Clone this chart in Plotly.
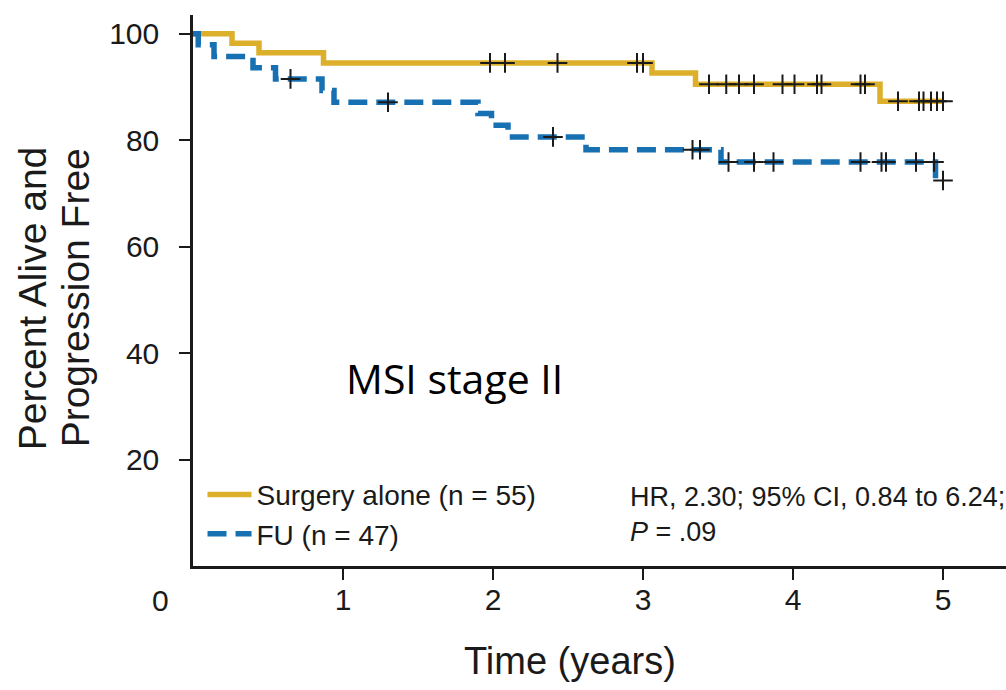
import plotly.graph_objects as go

# Kaplan-Meier step curves (time in years, percent alive and progression free)
surgery_times = [0, 0.26, 0.44, 0.87, 3.06, 3.35, 4.58, 5.00]
surgery_surv = [100, 98.2, 96.4, 94.5, 92.6, 90.5, 87.3, 87.3]
surgery_cens_t = [1.98, 2.08, 2.43, 2.96, 3.00,
                  3.44, 3.555, 3.64, 3.74, 3.93, 4.01, 4.16, 4.19, 4.45, 4.48,
                  4.70, 4.84, 4.87, 4.92, 4.96, 5.00]
surgery_cens_s = [94.5] * 5 + [90.5] * 10 + [87.3] * 6

fu_times = [0, 0.035, 0.14, 0.40, 0.55, 0.86, 0.94, 1.90, 1.99, 2.10, 2.62, 3.52, 4.95, 5.00]
fu_surv = [100, 97.9, 95.7, 93.6, 91.5, 89.3, 87.1, 85.0, 82.8, 80.6, 78.2, 75.9, 72.4, 72.4]
fu_cens_t = [0.65, 1.30, 2.40, 3.33, 3.38, 3.57, 3.74, 3.87, 4.45, 4.59, 4.62, 4.82, 4.94, 5.00]
fu_cens_s = [91.5, 87.1, 80.6, 78.2, 78.2] + [75.9] * 8 + [72.4]

x_ticks = [1, 2, 3, 4, 5]
y_ticks = [20, 40, 60, 80, 100]

GOLD = "#DDB02B"
BLUE = "#1770B1"
INK = "#1a1a1a"
BASE_FONT = "Liberation Sans, Arial, Helvetica, sans-serif"
NARROW_FONT = "Liberation Sans Narrow, Arial Narrow, Liberation Sans, sans-serif"

fig = go.Figure()

fig.add_trace(go.Scatter(
    x=surgery_times, y=surgery_surv, mode="lines", line_shape="hv",
    line=dict(color=GOLD, width=5.5), name="Surgery alone (n = 55)",
    legendgroup="a",
))
fig.add_trace(go.Scatter(
    x=fu_times, y=fu_surv, mode="lines", line_shape="hv",
    line=dict(color=BLUE, width=5.5, dash="19px,9px"), name="FU (n = 47)",
    legendgroup="b",
))
# censoring ticks
for ct, cs in [(surgery_cens_t, surgery_cens_s), (fu_cens_t, fu_cens_s)]:
    fig.add_trace(go.Scatter(
        x=ct, y=cs, mode="markers", showlegend=False, hoverinfo="skip",
        marker=dict(symbol="cross-thin", size=14, line=dict(color=INK, width=2)),
    ))

fig.update_layout(
    width=1006, height=690,
    margin=dict(l=193, r=0, t=15, b=124),
    paper_bgcolor="white", plot_bgcolor="white",
    font=dict(family=BASE_FONT, color=INK),
    showlegend=True,
    legend=dict(
        x=0.0117, y=0.094, xanchor="left", yanchor="middle",
        font=dict(size=28, family=BASE_FONT, color=INK),
        bgcolor="rgba(0,0,0,0)", traceorder="grouped", tracegroupgap=0,
        itemwidth=44,
    ),
    xaxis=dict(
        range=[0, 5.42], tickvals=x_ticks, ticktext=[str(v) for v in x_ticks],
        showgrid=False, zeroline=False, showline=True, linecolor=INK, linewidth=2.5,
        ticks="outside", ticklen=11, tickwidth=2, tickcolor=INK,
        tickfont=dict(size=30, family=NARROW_FONT, color=INK), ticklabelstandoff=-6,
    ),
    yaxis=dict(
        range=[0, 103.5], tickvals=y_ticks, ticktext=[str(v) for v in y_ticks],
        showgrid=False, zeroline=False, showline=True, linecolor=INK, linewidth=2.5,
        ticks="outside", ticklen=11, tickwidth=2, tickcolor=INK,
        tickfont=dict(size=30, family=NARROW_FONT, color=INK), ticklabelstandoff=14,
    ),
    annotations=[
        dict(text="0", xref="paper", yref="paper", x=-0.04, y=-0.062, showarrow=False,
             font=dict(size=30, family=NARROW_FONT, color=INK),
             xanchor="center", yanchor="middle"),
        dict(text="Time (years)", xref="x", yref="paper", x=2.515, y=-0.172,
             showarrow=False, font=dict(size=38, color=INK),
             xanchor="center", yanchor="middle"),
        dict(text="Percent Alive and", xref="paper", yref="paper",
             x=-0.198, y=0.486, textangle=-90, showarrow=False,
             font=dict(size=39, color=INK), xanchor="center", yanchor="middle"),
        dict(text="Progression Free", xref="paper", yref="paper",
             x=-0.145, y=0.486, textangle=-90, showarrow=False,
             font=dict(size=39, color=INK), xanchor="center", yanchor="middle"),
        dict(text="MSI stage II", xref="paper", yref="paper", x=0.186, y=0.342,
             showarrow=False, font=dict(size=41, family="Open Sans, Lato, sans-serif", color="black"),
             xanchor="left", yanchor="middle"),
        dict(text="HR, 2.30; 95% CI, 0.84 to 6.24;<br><i>P</i> = .09", xref="paper", yref="paper",
             x=0.535, y=0.094, showarrow=False, align="left",
             font=dict(size=27, color=INK), xanchor="left", yanchor="middle"),
    ],
)

fig.write_html("out.html")
